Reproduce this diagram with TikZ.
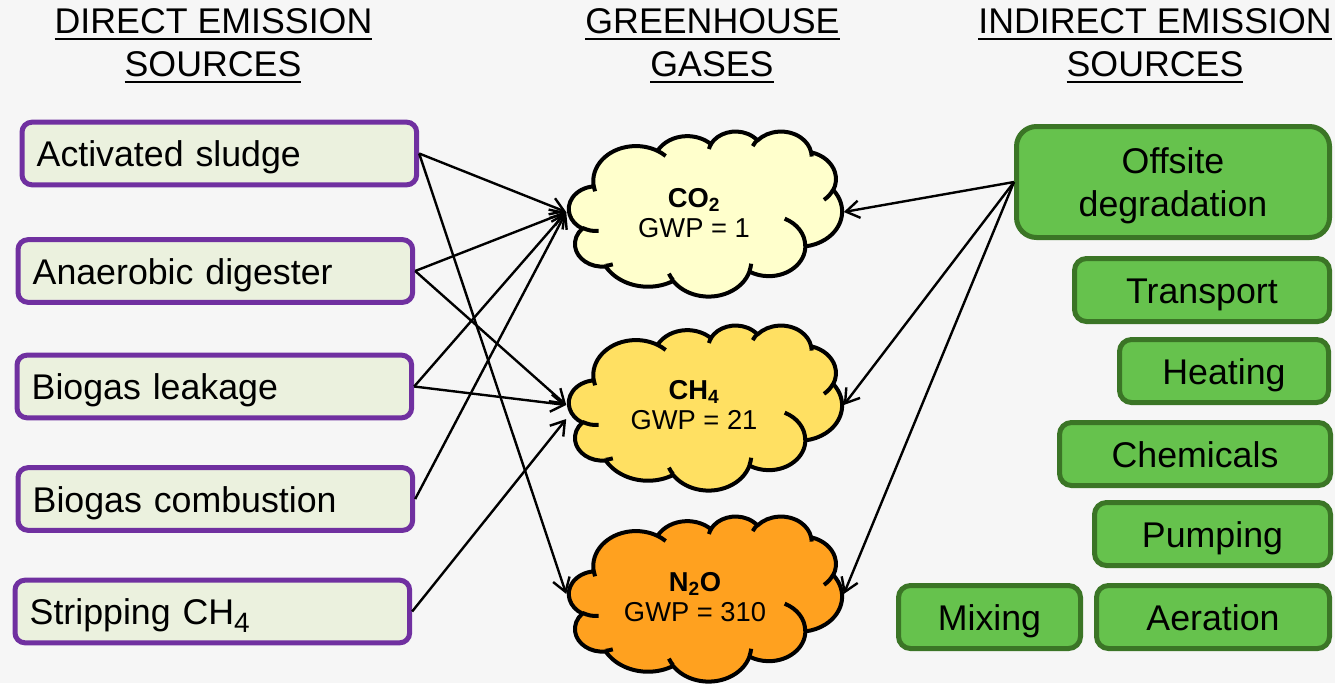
\documentclass[tikz,border=0pt]{standalone}
\usepackage{fontspec}
\setmainfont{Liberation Sans}
\usetikzlibrary{arrows.meta}

\definecolor{bg}{HTML}{F6F6F6}
\definecolor{srcfill}{HTML}{EBF1DE}
\definecolor{srcline}{HTML}{7030A0}
\definecolor{indfill}{HTML}{66C24D}
\definecolor{indline}{HTML}{3B7526}
\definecolor{co2fill}{HTML}{FFFFCC}
\definecolor{ch4fill}{HTML}{FFE062}
\definecolor{n2ofill}{HTML}{FFA11F}

\newcommand{\boxfont}{\fontsize{26.8}{32}\selectfont}
\newcommand{\gasfont}{\fontsize{20.5}{23}\selectfont}

% underlined heading text with a thick rule
\newcommand{\ulin}[1]{\setbox0=\hbox{#1}\rlap{\rule[-5pt]{\wd0}{1.5pt}}\box0}
% large, low subscript used in the box labels
\newcommand{\lowsub}[1]{\raisebox{-6pt}{\fontsize{21}{21}\selectfont #1}}

% parametric angle of a point given by its visual angle on an ellipse
\newcommand{\pang}[3]{atan2((#1)*sin(#3),(#2)*cos(#3))}
% elliptical arc from the current point: radii, start angle, sweep
\newcommand{\ooarc}[4]{arc[x radius=#1, y radius=#2, start angle={\pang{#1}{#2}{#3}}, delta angle={mod(\pang{#1}{#2}{(#3)+(#4)}-\pang{#1}{#2}{#3}+720,360)}]}

% cloud outline in a 432 x 432 frame, top left corner at #1,#2
\newcommand{\gascloud}[3]{%
  \begin{scope}[shift={(#1,#2)}, x=0.47396pt, y=-0.28646pt]
    \filldraw[cloudline, fill=#3] (39,143.7)
      \ooarc{67.53}{91.90}{-190.48748}{123.78053}
      \ooarc{53.33}{72.67}{-144.10238}{89.94523}
      \ooarc{43.65}{59.45}{-145.80792}{99.72302}
      \ooarc{48.57}{65.95}{-130.98607}{117.24173}
      \ooarc{53.33}{72.73}{-78.70888}{109.02692}
      \ooarc{67.75}{92.20}{-46.26725}{130.269}
      \ooarc{57.85}{78.67}{0.62502}{114.03333}
      \ooarc{67.52}{92.15}{22.4516}{115.17255}
      \ooarc{77.20}{105.43}{66.24263}{75.71102}
      \ooarc{43.60}{59.18}{-274.94208}{146.73557}
      \ooarc{43.45}{59.45}{-246.8285}{152.51885}
      -- cycle;
    \draw[cloudline]
      (46.93,261.77) \ooarc{43.45}{59.45}{86.742}{26.4295}
      (69.28,348.99) \ooarc{43.60}{59.18}{73.61047}{11.44747}
      (164.78,390.90) \ooarc{67.52}{92.15}{137.62415}{14.0811}
      (288.27,347.51) \ooarc{67.52}{92.15}{6.45327}{15.99835}
      (341.29,229.54) \ooarc{57.85}{78.67}{-70.29235}{70.91737}
      (417.98,153.54) \ooarc{53.33}{72.73}{30.31803}{27.7515}
      (383.24,54.26) \ooarc{48.57}{65.95}{-13.74433}{14.8589}
      (290.78,39.52) \ooarc{48.57}{65.95}{-149.18145}{18.19537}
      (221.41,47.20) \ooarc{43.65}{59.45}{-163.49427}{17.68635}
      (140.00,51.92) \ooarc{67.53}{91.90}{-66.70695}{12.31935}
      (41.27,157.89) \ooarc{67.53}{91.90}{157.65435}{11.85817};
  \end{scope}}

\tikzset{
  hdr/.style={font=\boxfont, inner sep=0pt, anchor=base},
  srcbox/.style={draw=srcline, fill=srcfill, line width=3.75pt, rounded corners=7.5pt,
    minimum height=47pt, text width=274pt, inner xsep=11pt, align=left,
    text height=23.5pt, text depth=4pt, font=\boxfont, anchor=west},
  indbox/.style={draw=indline, fill=indfill, line width=3.75pt, rounded corners=9pt,
    minimum height=47.25pt, inner sep=0pt, align=center, font=\boxfont},
  oneline/.style={text height=23.5pt, text depth=4pt},
  cloudline/.style={draw=black, line width=3pt, line join=round},
  gasbox/.style={minimum width=207.75pt, minimum height=60pt, inner sep=0pt},
  gastext/.style={align=center, font=\gasfont, inner sep=0pt},
  arr/.style={line width=1.8pt, -{Straight Barb[length=10pt, width=13pt]}},
}

\begin{document}
\begin{tikzpicture}[x=0.75pt, y=-0.75pt]
  \fill[bg] (0,0) rectangle (1335,683);
  \useasboundingbox (0,0) rectangle (1335,683);

  % column headings
  \node[hdr] (hd1) at (213.5,33) {\ulin{DIRECT EMISSION}};
  \node[hdr] (hd2) at (213,76) {\ulin{SOURCES}};
  \node[hdr] (hg1) at (712.5,33) {\ulin{GREENHOUSE}};
  \node[hdr] (hg2) at (712,76) {\ulin{GASES}};
  \node[hdr] (hi1) at (1155,33) {\ulin{INDIRECT EMISSION}};
  \node[hdr] (hi2) at (1155,76) {\ulin{SOURCES}};

  % direct sources
  \node[srcbox] (act) at (19.5,153.5) {Activated sludge};
  \node[srcbox] (ana) at (15.5,271) {Anaerobic digester};
  \node[srcbox] (lea) at (14.5,386.5) {Biogas leakage};
  \node[srcbox] (com) at (15.5,499) {Biogas combustion};
  \node[srcbox] (str) at (12.5,611.5) {Stripping CH\lowsub{4}};

  % greenhouse gas clouds
  \gascloud{569}{131}{co2fill}
  \gascloud{569}{325}{ch4fill}
  \gascloud{569}{516}{n2ofill}
  \node[gasbox] (co2) at (705,212) {};
  \node[gasbox] (ch4) at (705,405) {};
  \node[gasbox] (n2o) at (705,594) {};
  \node[gastext] (co2t) at (694,213) {\textbf{CO\textsubscript{2}}\\GWP = 1};
  \node[gastext] (ch4t) at (694,405) {\textbf{CH\textsubscript{4}}\\GWP = 21};
  \node[gastext] (n2ot) at (695,597) {\textbf{N\textsubscript{2}O}\\GWP = 310};

  % indirect sources
  \node[indbox, minimum width=234.75pt, minimum height=83.25pt, rounded corners=15pt,
    text depth=0pt] (off) at (1173,182) {Offsite\\degradation};
  \node[indbox, oneline, minimum width=191.25pt] (tra) at (1202,290) {Transport};
  \node[indbox, oneline, minimum width=156.75pt] (hea) at (1224,371) {Heating};
  \node[indbox, oneline, minimum width=203.25pt] (che) at (1195,454) {Chemicals};
  \node[indbox, oneline, minimum width=177pt] (pum) at (1212.5,534) {Pumping};
  \node[indbox, oneline, minimum width=136.5pt] (mix) at (989.5,617) {Mixing};
  \node[indbox, oneline, minimum width=174.75pt] (aer) at (1213,617) {Aeration};

  % emission links
  \draw[arr] (act.east) -- (co2.west);
  \draw[arr] (act.east) -- (n2o.west);
  \draw[arr] (ana.east) -- (co2.west);
  \draw[arr] (ana.east) -- (ch4.west);
  \draw[arr] (lea.east) -- (co2.west);
  \draw[arr] (lea.east) -- (ch4.west);
  \draw[arr] (com.east) -- (co2.west);
  \draw[arr] (str.east) -- ([yshift=-10.5pt]ch4.west);
  \draw[arr] (off.west) -- (co2.east);
  \draw[arr] (off.west) -- (ch4.east);
  \draw[arr] (off.west) -- (n2o.east);
\end{tikzpicture}
\end{document}
